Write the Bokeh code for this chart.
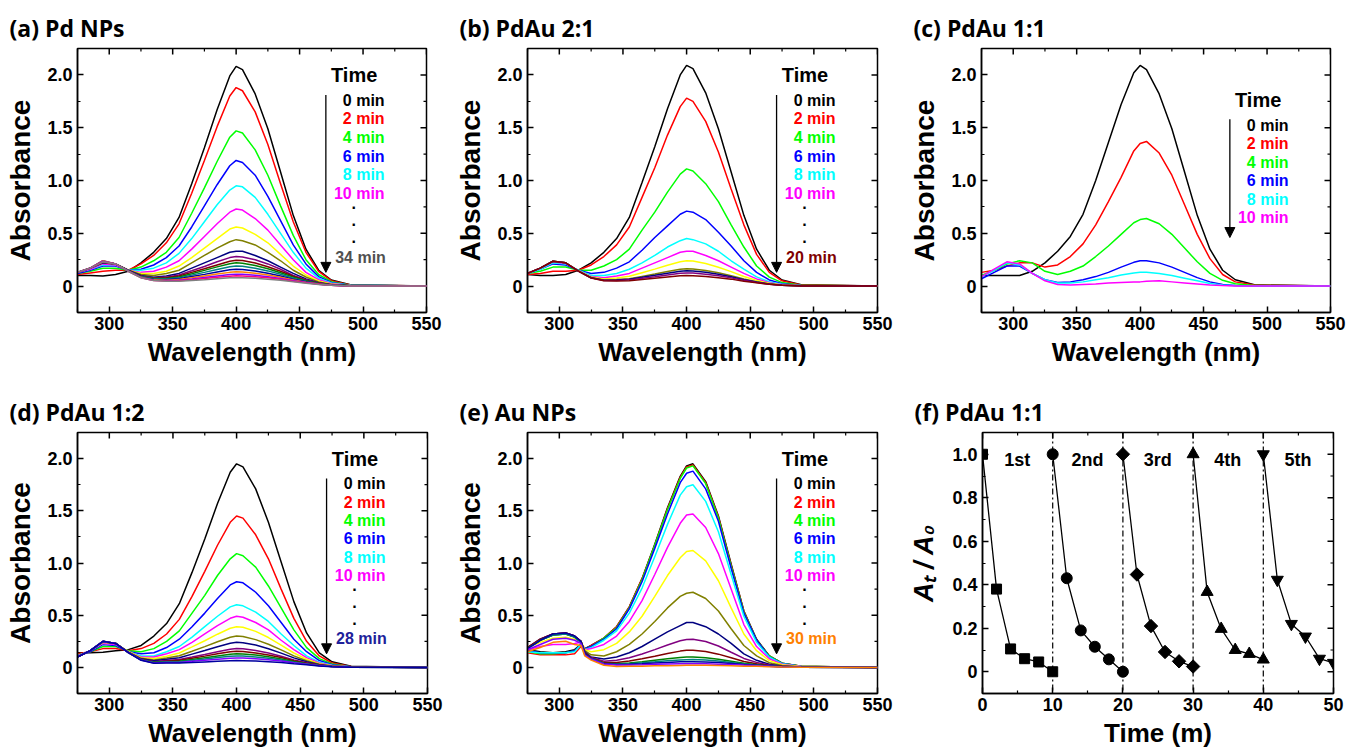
from math import pi
from bokeh.plotting import figure
from bokeh.models import (FixedTicker, Label, Arrow, NormalHead, Span,
                          Range1d, CustomJSTickFormatter)
from bokeh.layouts import row, column
from bokeh.embed import file_html
from bokeh.resources import INLINE

# ------------------------------------------------------------------ data
wavelength = [275, 285, 295, 305, 315, 325, 335, 345, 355, 365, 375, 385, 395,
              400, 405, 415, 425, 435, 445, 455, 465, 475, 490, 550]
wavelength_au = [275, 285, 295, 305, 312, 317, 320, 325, 335, 345, 355, 365, 375,
                 385, 395, 400, 405, 415, 425, 435, 445, 455, 465, 475, 490, 550]

# (a) Pd NPs, 0..34 min every 2 min
pd_np = [
    [.10, .10, .095, .11, .14, .22, .32, .45, .65, .97, 1.31, 1.67, 1.99, 2.08, 2.05, 1.82, 1.49, 1.08, .67, .35, .15, .057, .012, 0],
    [.11, .125, .14, .15, .15, .21, .29, .41, .59, .88, 1.19, 1.51, 1.80, 1.88, 1.85, 1.65, 1.34, .97, .61, .32, .14, .052, .011, 0],
    [.12, .14, .17, .17, .15, .18, .24, .32, .46, .69, .93, 1.18, 1.41, 1.47, 1.45, 1.29, 1.05, .76, .48, .25, .11, .042, .009, 0],
    [.12, .15, .19, .19, .15, .16, .20, .27, .38, .56, .76, .96, 1.14, 1.19, 1.17, 1.05, .85, .62, .39, .21, .09, .035, .008, 0],
    [.13, .16, .20, .20, .15, .15, .17, .22, .31, .45, .61, .77, .91, .95, .94, .84, .68, .50, .32, .17, .075, .029, .007, 0],
    [.13, .16, .21, .20, .15, .13, .14, .18, .24, .35, .47, .59, .70, .73, .72, .64, .53, .39, .25, .13, .06, .024, .006, 0],
    [.13, .17, .22, .21, .15, .12, .12, .14, .19, .27, .36, .45, .54, .56, .55, .49, .41, .30, .19, .105, .048, .019, .005, 0],
    [.13, .17, .22, .21, .15, .11, .10, .12, .15, .22, .29, .36, .42, .44, .43, .39, .32, .24, .15, .086, .04, .016, .004, 0],
    [.13, .17, .22, .21, .15, .10, .085, .095, .12, .17, .22, .27, .32, .33, .33, .29, .24, .18, .12, .068, .032, .014, .004, 0],
    [.13, .17, .225, .21, .145, .095, .079, .085, .105, .145, .186, .23, .27, .28, .276, .25, .21, .16, .10, .06, .029, .012, .003, 0],
    [.13, .17, .23, .21, .145, .092, .074, .078, .095, .13, .164, .20, .236, .245, .242, .218, .183, .14, .093, .054, .027, .011, .003, 0],
    [.13, .17, .23, .21, .144, .09, .071, .073, .087, .117, .149, .182, .212, .22, .217, .196, .165, .127, .085, .05, .025, .011, .003, 0],
    [.13, .17, .235, .21, .143, .088, .067, .067, .078, .104, .13, .158, .183, .19, .188, .17, .144, .112, .075, .046, .023, .01, .003, 0],
    [.13, .17, .24, .21, .143, .085, .063, .061, .069, .09, .111, .134, .154, .16, .158, .144, .122, .096, .066, .041, .021, .009, .003, 0],
    [.13, .17, .24, .21, .142, .083, .059, .056, .062, .078, .096, .114, .13, .135, .133, .122, .105, .084, .058, .037, .019, .009, .002, 0],
    [.13, .17, .235, .21, .142, .082, .056, .052, .055, .068, .082, .096, .109, .113, .112, .103, .089, .072, .051, .033, .018, .008, .002, 0],
    [.13, .17, .23, .21, .141, .08, .054, .048, .05, .061, .072, .084, .094, .097, .096, .089, .078, .064, .046, .031, .017, .008, .002, 0],
    [.13, .17, .23, .21, .141, .079, .052, .045, .045, .053, .061, .07, .078, .08, .079, .074, .066, .056, .041, .028, .015, .007, .002, 0],
]

# (b) PdAu 2:1, 0..20 min
pdau_21 = [
    [.11, .10, .10, .11, .15, .22, .32, .45, .65, .98, 1.32, 1.68, 2.00, 2.09, 2.06, 1.83, 1.49, 1.08, .67, .35, .15, .058, .012, 0],
    [.11, .12, .14, .14, .15, .20, .28, .39, .56, .84, 1.12, 1.43, 1.70, 1.78, 1.75, 1.56, 1.27, .92, .58, .30, .13, .05, .011, 0],
    [.12, .14, .18, .18, .15, .15, .19, .25, .35, .53, .70, .89, 1.06, 1.11, 1.09, .97, .80, .58, .37, .19, .085, .033, .007, 0],
    [.12, .16, .21, .20, .15, .12, .13, .17, .23, .34, .46, .57, .68, .71, .70, .63, .51, .38, .24, .13, .058, .023, .005, 0],
    [.12, .16, .22, .21, .15, .10, .10, .12, .16, .22, .29, .37, .43, .45, .44, .40, .33, .24, .16, .087, .041, .017, .004, 0],
    [.12, .17, .23, .215, .145, .09, .08, .095, .12, .17, .22, .27, .32, .33, .33, .29, .24, .18, .12, .068, .032, .014, .003, 0],
    [.12, .17, .235, .22, .145, .087, .068, .077, .093, .127, .161, .198, .231, .24, .237, .214, .179, .137, .091, .054, .026, .011, .003, 0],
    [.12, .17, .235, .22, .143, .081, .058, .062, .07, .092, .114, .138, .159, .165, .163, .148, .126, .099, .068, .042, .021, .009, .003, 0],
    [.12, .17, .235, .22, .142, .079, .056, .058, .065, .083, .102, .122, .14, .145, .143, .131, .112, .089, .061, .038, .02, .009, .003, 0],
    [.12, .17, .235, .22, .142, .078, .053, .054, .059, .074, .089, .106, .121, .125, .124, .113, .097, .078, .055, .035, .018, .008, .002, 0],
    [.12, .17, .235, .22, .141, .076, .05, .049, .051, .062, .074, .086, .097, .10, .099, .091, .08, .066, .047, .031, .017, .008, .002, 0],
]

# (c) PdAu 1:1, 0..10 min
pdau_11 = [
    [.10, .10, .10, .10, .14, .22, .33, .47, .68, 1.00, 1.36, 1.72, 2.02, 2.09, 2.05, 1.82, 1.49, 1.08, .67, .35, .15, .06, .012, 0],
    [.13, .15, .19, .22, .22, .18, .20, .28, .40, .58, .80, 1.03, 1.28, 1.35, 1.37, 1.26, 1.05, .77, .49, .26, .11, .04, .01, 0],
    [.10, .15, .21, .24, .22, .14, .11, .14, .19, .28, .38, .49, .60, .63, .64, .59, .49, .36, .23, .12, .055, .022, .006, 0],
    [.07, .13, .19, .19, .12, .06, .035, .04, .06, .09, .13, .18, .225, .24, .24, .22, .18, .13, .08, .04, .015, .005, 0, 0],
    [.09, .15, .22, .20, .12, .06, .03, .03, .04, .06, .08, .105, .125, .13, .13, .12, .10, .075, .05, .025, .01, .004, 0, 0],
    [.09, .16, .23, .21, .12, .05, .015, .01, .015, .02, .03, .035, .04, .04, .045, .05, .04, .03, .02, .01, .005, .002, 0, 0],
]

# (d) PdAu 1:2, 0..28 min
pdau_12 = [
    [.14, .14, .145, .16, .17, .21, .30, .42, .61, .91, 1.23, 1.57, 1.87, 1.95, 1.92, 1.71, 1.39, 1.01, .63, .33, .14, .054, .012, 0],
    [.13, .15, .18, .18, .16, .18, .23, .32, .46, .68, .92, 1.17, 1.39, 1.45, 1.43, 1.27, 1.04, .75, .47, .25, .11, .042, .009, 0],
    [.12, .15, .20, .20, .16, .15, .18, .25, .35, .52, .69, .88, 1.04, 1.09, 1.07, .96, .78, .57, .36, .19, .084, .033, .007, 0],
    [.11, .15, .22, .21, .15, .13, .14, .19, .27, .39, .52, .66, .79, .82, .81, .72, .59, .43, .27, .15, .066, .026, .006, 0],
    [.11, .16, .23, .22, .15, .11, .11, .15, .20, .29, .39, .49, .58, .60, .59, .53, .44, .32, .21, .11, .051, .02, .005, 0],
    [.11, .16, .23, .22, .15, .10, .10, .13, .17, .24, .32, .40, .47, .49, .48, .43, .36, .26, .17, .094, .043, .018, .004, 0],
    [.10, .16, .24, .23, .15, .093, .085, .107, .138, .196, .255, .318, .375, .39, .385, .345, .286, .214, .138, .078, .036, .015, .004, 0],
    [.10, .16, .245, .23, .145, .087, .071, .089, .111, .154, .199, .246, .288, .30, .296, .266, .222, .168, .11, .063, .03, .013, .003, 0],
    [.10, .16, .25, .23, .144, .082, .063, .077, .093, .127, .161, .198, .231, .24, .237, .214, .179, .137, .091, .054, .026, .011, .003, 0],
    [.10, .16, .25, .23, .143, .077, .055, .065, .075, .099, .124, .15, .174, .18, .178, .161, .137, .107, .072, .044, .022, .01, .003, 0],
    [.10, .16, .245, .23, .142, .075, .052, .06, .068, .088, .108, .13, .15, .155, .153, .139, .119, .094, .064, .04, .02, .009, .003, 0],
    [.10, .16, .25, .23, .142, .073, .049, .055, .06, .076, .093, .11, .126, .13, .129, .118, .101, .081, .057, .036, .019, .009, .002, 0],
    [.10, .16, .245, .23, .142, .071, .046, .051, .054, .067, .08, .094, .107, .11, .109, .10, .087, .071, .05, .033, .017, .008, .002, 0],
    [.10, .16, .25, .23, .141, .07, .043, .047, .048, .058, .068, .078, .087, .09, .089, .083, .073, .061, .044, .03, .016, .008, .002, 0],
    [.10, .16, .25, .23, .141, .068, .04, .042, .041, .046, .052, .058, .063, .065, .064, .061, .055, .048, .036, .026, .014, .007, .002, 0],
]

# (e) Au NPs, 0..30 min (on wavelength_au)
au_np = [
    [.17, .15, .14, .15, .17, .22, .18, .21, .28, .39, .58, .85, 1.18, 1.53, 1.83, 1.93, 1.95, 1.78, 1.45, .99, .54, .27, .11, .04, .01, 0],
    [.14, .12, .12, .12, .13, .20, .17, .21, .28, .39, .58, .85, 1.17, 1.52, 1.82, 1.92, 1.94, 1.77, 1.44, .98, .54, .26, .11, .04, .01, 0],
    [.15, .13, .13, .14, .16, .22, .18, .20, .28, .38, .57, .84, 1.17, 1.51, 1.81, 1.91, 1.93, 1.76, 1.43, .97, .53, .26, .11, .04, .01, 0],
    [.16, .14, .14, .14, .16, .22, .18, .20, .27, .37, .56, .82, 1.14, 1.47, 1.77, 1.86, 1.88, 1.71, 1.40, .95, .52, .26, .10, .038, .009, 0],
    [.15, .14, .14, .14, .15, .22, .17, .19, .26, .35, .52, .76, 1.06, 1.37, 1.65, 1.73, 1.75, 1.59, 1.30, .89, .49, .24, .097, .036, .009, 0],
    [.17, .20, .22, .22, .23, .24, .17, .18, .22, .30, .44, .64, .89, 1.15, 1.38, 1.46, 1.47, 1.34, 1.09, .75, .41, .20, .083, .031, .008, 0],
    [.19, .24, .28, .29, .27, .25, .17, .15, .17, .23, .34, .49, .68, .88, 1.05, 1.11, 1.12, 1.02, .83, .57, .32, .16, .065, .025, .006, 0],
    [.19, .26, .31, .32, .29, .25, .16, .12, .11, .15, .22, .32, .44, .57, .68, .71, .72, .66, .54, .37, .21, .11, .045, .018, .005, 0],
    [.19, .27, .32, .33, .30, .25, .15, .10, .08, .10, .14, .20, .27, .34, .40, .43, .43, .39, .32, .23, .13, .068, .03, .012, .004, 0],
    [.19, .27, .32, .33, .30, .25, .14, .095, .06, .068, .093, .128, .17, .215, .255, .268, .27, .248, .205, .145, .086, .048, .023, .01, .003, 0],
    [.19, .27, .32, .33, .30, .25, .14, .089, .047, .048, .062, .082, .107, .133, .156, .164, .165, .152, .127, .093, .057, .034, .017, .008, .002, 0],
    [.18, .26, .31, .32, .29, .24, .13, .085, .04, .035, .043, .054, .068, .082, .095, .099, .10, .093, .079, .06, .04, .025, .014, .006, .002, 0],
    [.18, .26, .31, .32, .29, .24, .13, .083, .037, .03, .036, .044, .053, .063, .072, .074, .075, .07, .061, .048, .033, .022, .013, .006, .002, 0],
    [.18, .26, .32, .33, .30, .25, .13, .082, .034, .027, .03, .035, .041, .047, .053, .055, .055, .052, .046, .038, .027, .02, .012, .006, .002, 0],
    [.17, .22, .27, .28, .26, .23, .12, .08, .032, .023, .024, .026, .029, .032, .034, .035, .035, .034, .031, .028, .022, .017, .011, .005, .002, 0],
    [.15, .19, .24, .25, .22, .21, .11, .07, .02, .008, .01, .012, .015, .017, .019, .02, .02, .02, .018, .015, .012, .01, .006, .004, .002, 0],
]

# (f) recycling of PdAu 1:1
cycle_time_1 = [0, 2, 4, 6, 8, 10]
cycle_ratio_1 = [1.0, 0.38, 0.105, 0.06, 0.045, 0.0]
cycle_time_2 = [10, 12, 14, 16, 18, 20]
cycle_ratio_2 = [1.0, 0.43, 0.19, 0.115, 0.057, 0.0]
cycle_time_3 = [20, 22, 24, 26, 28, 30]
cycle_ratio_3 = [1.0, 0.447, 0.21, 0.091, 0.048, 0.024]
cycle_time_4 = [30, 32, 34, 36, 38, 40]
cycle_ratio_4 = [1.0, 0.367, 0.197, 0.10, 0.082, 0.056]
cycle_time_5 = [40, 42, 44, 46, 48, 50]
cycle_ratio_5 = [1.0, 0.423, 0.22, 0.162, 0.06, 0.041]
cycle_names = ["1st", "2nd", "3rd", "4th", "5th"]

legend_items = ["0 min", "2 min", "4 min", "6 min", "8 min", "10 min"]
origin_colors = ["#000000", "#FF0000", "#00FF00", "#0000FF", "#00FFFF", "#FF00FF",
                 "#FFFF00", "#808000", "#000080", "#800080", "#800000", "#008000",
                 "#008080", "#0000A0", "#FF8000", "#8000FF", "#FF0080", "#808080"]
colors_a = origin_colors[:18]
colors_b = origin_colors[:11]
colors_c = origin_colors[:6]
colors_d = origin_colors[:13] + ["#8000FF", "#0000A0"]
colors_e = origin_colors[:14] + ["#8000FF", "#FF8000"]

# ------------------------------------------------------------------ styling
AX_FONT = "Liberation Sans"
TITLE_FONT = "Open Sans"


def base_fig(w, bl, br, h, bt, bb, xr, yr, title):
    p = figure(width=w, height=h, x_range=Range1d(*xr), y_range=Range1d(*yr),
               min_border_left=bl, min_border_right=br, min_border_top=bt,
               min_border_bottom=bb, output_backend="svg", toolbar_location=None,
               title=title)
    p.grid.visible = False
    p.outline_line_color = "black"
    p.outline_line_width = 1.5
    p.background_fill_color = "white"
    p.border_fill_color = "white"
    p.title.align = "left"
    p.title.offset = -68
    p.title.text_font = TITLE_FONT
    p.title.text_font_size = "23px"
    p.title.text_font_style = "bold"
    p.title.text_color = "black"
    p.title.standoff = 10
    return p


def style_axes(p, w, bl, br, h, bt, bb, xr, yr, xt, xm, yt, ym, xlabel, ylabel,
               ylabel_style="bold", ylabel_size="28px", ylabel_standoff=8):
    fw = w - bl - br
    fh = h - bt - bb
    xa, ya = p.xaxis[0], p.yaxis[0]
    xa.ticker = FixedTicker(ticks=xt, minor_ticks=xm)
    ya.ticker = FixedTicker(ticks=yt, minor_ticks=ym)
    ya.formatter = CustomJSTickFormatter(
        code="return tick == 0 ? '0' : tick.toFixed(1);")
    for ax in (xa, ya):
        ax.axis_line_width = 1.5
        ax.axis_line_color = "black"
        ax.major_tick_in = 6
        ax.major_tick_out = 0
        ax.minor_tick_in = 3
        ax.minor_tick_out = 0
        ax.major_tick_line_width = 1.5
        ax.minor_tick_line_width = 1.2
        ax.major_tick_line_color = "black"
        ax.minor_tick_line_color = "black"
        ax.major_label_text_font = AX_FONT
        ax.major_label_text_font_style = "bold"
        ax.major_label_text_font_size = "18px"
        ax.major_label_text_color = "black"
        ax.axis_label_text_font = AX_FONT
        ax.axis_label_text_color = "black"
    xa.major_label_standoff = 4
    ya.major_label_standoff = 5
    xa.axis_label = xlabel
    xa.axis_label_text_font_size = "26px"
    xa.axis_label_text_font_style = "bold"
    xa.axis_label_standoff = 4
    ya.axis_label = ylabel
    ya.axis_label_text_font_size = ylabel_size
    ya.axis_label_text_font_style = ylabel_style
    ya.axis_label_standoff = ylabel_standoff

    # mirrored inward ticks on top and right edges
    dx = (xr[1] - xr[0]) / fw
    dy = (yr[1] - yr[0]) / fh
    top, rgt = yr[1], xr[1]
    p.segment(x0=xt, y0=[top] * len(xt), x1=xt, y1=[top - 6 * dy] * len(xt),
              line_color="black", line_width=1.5)
    p.segment(x0=xm, y0=[top] * len(xm), x1=xm, y1=[top - 3 * dy] * len(xm),
              line_color="black", line_width=1.2)
    p.segment(x0=[rgt] * len(yt), y0=yt, x1=[rgt - 6 * dx] * len(yt), y1=yt,
              line_color="black", line_width=1.5)
    p.segment(x0=[rgt] * len(ym), y0=ym, x1=[rgt - 3 * dx] * len(ym), y1=ym,
              line_color="black", line_width=1.2)


def text(p, x, y, txt, size, color="black", align="center"):
    p.add_layout(Label(x=x, y=y, text=txt, text_font=AX_FONT,
                       text_font_size=size, text_font_style="bold",
                       text_color=color, text_align=align, text_baseline="middle"))


def spectrum_panel(wl, spectra, colors, title, w, bl, br, h, bt, bb,
                   last_label, last_color, low_legend=False):
    xr, yr = (275, 550), (-0.25, 2.25)
    p = base_fig(w, bl, br, h, bt, bb, xr, yr, title)
    style_axes(p, w, bl, br, h, bt, bb, xr, yr,
               [300, 350, 400, 450, 500, 550], [275, 325, 375, 425, 475, 525],
               [0, 0.5, 1.0, 1.5, 2.0], [-0.25, 0.25, 0.75, 1.25, 1.75],
               "Wavelength (nm)", "Absorbance")
    for vals, c in zip(spectra, colors):
        p.line(wl, vals, line_color=c, line_width=1.5)

    shift = -0.235 if low_legend else 0.0
    text(p, 493, 2.0 + shift, "Time", "20px")
    for i, (txt, c) in enumerate(zip(legend_items, colors)):
        text(p, 517, 1.76 + shift - i * 0.176, txt, "16px", color=c, align="right")
    if last_label:
        for yy in (0.745, 0.58, 0.42):
            text(p, 493, yy, "·", "16px")
        text(p, 518, 0.275, last_label, "16px", color=last_color, align="right")
    y0, y1 = (1.58, 0.46) if low_legend else (1.81, 0.13)
    p.add_layout(Arrow(end=NormalHead(size=10, fill_color="black",
                                      line_color="black", line_width=1),
                       x_start=470.7, y_start=y0, x_end=470.7, y_end=y1,
                       line_width=1.3, line_color="black"))
    return p


R1 = dict(h=386, bt=48, bb=74)
R2 = dict(h=364, bt=46, bb=56)
pa = spectrum_panel(wavelength, pd_np, colors_a, "(a) Pd NPs",
                    450, 77, 24, last_label="34 min", last_color="#505050", **R1)
pb = spectrum_panel(wavelength, pdau_21, colors_b, "(b) PdAu 2:1",
                    450, 77, 23, last_label="20 min", last_color="#800000", **R1)
pc = spectrum_panel(wavelength, pdau_11, colors_c, "(c) PdAu 1:1",
                    448, 81, 18, last_label=None, last_color=None,
                    low_legend=True, **R1)
pd_ = spectrum_panel(wavelength, pdau_12, colors_d, "(d) PdAu 1:2",
                     450, 77, 23, last_label="28 min", last_color="#20209A", **R2)
pe = spectrum_panel(wavelength_au, au_np, colors_e, "(e) Au NPs",
                    450, 77, 23, last_label="30 min", last_color="#FF8000", **R2)

# (f) recycling panel
fxr, fyr = (0, 50), (-0.1, 1.1)
pf = base_fig(448, 82, 15, R2["h"], R2["bt"], R2["bb"], fxr, fyr, "(f) PdAu 1:1")
style_axes(pf, 448, 82, 15, R2["h"], R2["bt"], R2["bb"], fxr, fyr,
           [0, 10, 20, 30, 40, 50], [5, 15, 25, 35, 45],
           [0, 0.2, 0.4, 0.6, 0.8, 1.0], [-0.1, 0.1, 0.3, 0.5, 0.7, 0.9],
           "Time (m)", "Aₜ / A₀", ylabel_style="bold italic",
           ylabel_size="27px", ylabel_standoff=10)
for loc in (10, 20, 30, 40):
    pf.add_layout(Span(location=loc, dimension="height", line_color="black",
                       line_width=1.2, line_dash="6 3 2 3"))
series = [(cycle_time_1, cycle_ratio_1, "square", 10, 0.0),
          (cycle_time_2, cycle_ratio_2, "circle", 11, 0.0),
          (cycle_time_3, cycle_ratio_3, "square", 9.5, pi / 4),
          (cycle_time_4, cycle_ratio_4, "triangle", 12, 0.0),
          (cycle_time_5, cycle_ratio_5, "inverted_triangle", 12, 0.0)]
for t, r, m, s, ang in series:
    pf.line(t, r, line_color="black", line_width=1.3)
    pf.scatter(t, r, marker=m, size=s, angle=ang, fill_color="black",
               line_color="black")
for i, name in enumerate(cycle_names):
    text(pf, 4.95 + 10 * i, 0.973, name, "18px")

layout = column(row(pa, pb, pc), row(pd_, pe, pf))
open("out.html", "w").write(file_html(layout, INLINE))
